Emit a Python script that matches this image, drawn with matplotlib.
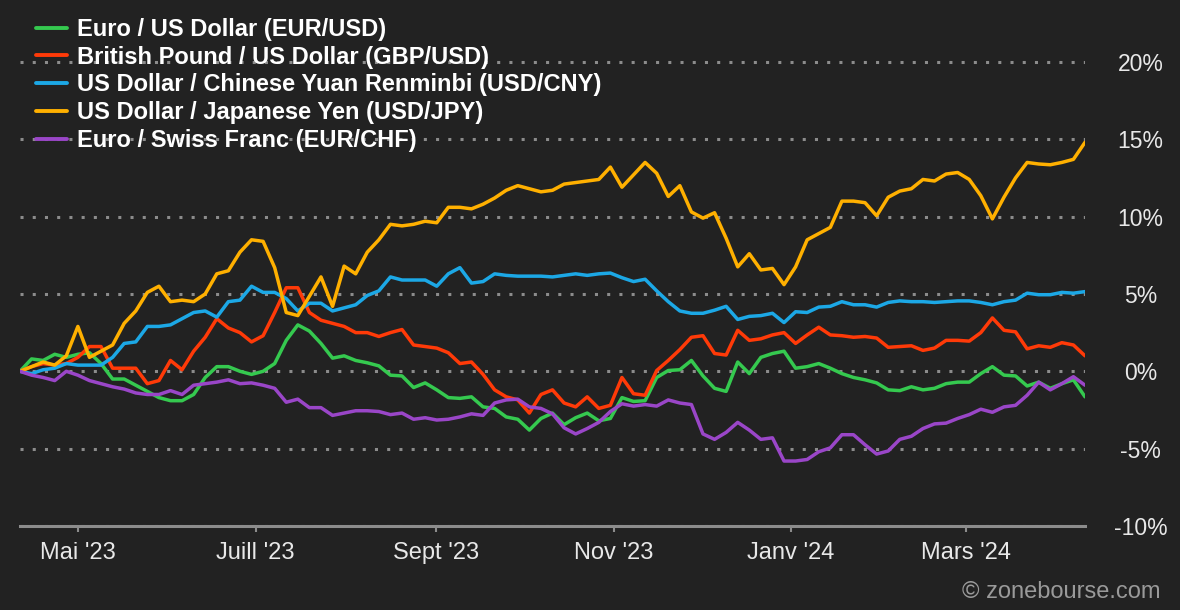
import matplotlib
matplotlib.use("Agg")
import matplotlib.pyplot as plt
import pandas as pd

# one reading about every 4 days, 11 Apr 2023 -> 11 Apr 2024 (% change)
dates = pd.date_range("2023-04-11", "2024-04-11", periods=93)

eur_usd = [0.0, 0.8, 0.7, 1.1, 0.9, 1.1, 1.2, 0.5, -0.5, -0.5,
           -0.9, -1.3, -1.7, -1.9, -1.9, -1.5, -0.4, 0.3, 0.3, 0.0,
           -0.2, 0.0, 0.5, 2.0, 3.0, 2.6, 1.8, 0.85, 1.0, 0.7,
           0.55, 0.35, -0.25, -0.3, -1.05, -0.75, -1.2, -1.7, -1.75, -1.65,
           -2.3, -2.4, -2.95, -3.1, -3.8, -3.05, -2.7, -3.45, -3.0, -2.7,
           -3.2, -3.05, -1.7, -1.95, -1.9, -0.4, 0.05, 0.1, 0.7, -0.3,
           -1.1, -1.3, 0.6, -0.15, 0.9, 1.15, 1.3, 0.2, 0.3, 0.5,
           0.2, -0.15, -0.4, -0.55, -0.75, -1.2, -1.25, -1.0, -1.2, -1.1,
           -0.8, -0.7, -0.7, -0.15, 0.3, -0.25, -0.3, -0.95, -0.7, -1.1,
           -0.8, -0.55, -1.65]

gbp_usd = [0.0, 0.3, 0.5, 0.4, 0.5, 0.9, 1.6, 1.6, 0.2, 0.2,
           0.2, -0.8, -0.6, 0.7, 0.1, 1.3, 2.2, 3.4, 2.8, 2.5,
           1.9, 2.3, 3.8, 5.4, 5.4, 3.8, 3.3, 3.1, 2.9, 2.5,
           2.5, 2.25, 2.5, 2.7, 1.7, 1.6, 1.5, 1.2, 0.5, 0.6,
           -0.2, -1.2, -1.65, -1.85, -2.7, -1.5, -1.2, -2.05, -2.3, -1.65,
           -2.4, -2.2, -0.4, -1.45, -1.55, 0.05, 0.7, 1.4, 2.2, 2.3,
           1.15, 1.05, 2.65, 2.0, 2.1, 2.35, 2.5, 1.8, 2.35, 2.85,
           2.35, 2.3, 2.2, 2.25, 2.15, 1.55, 1.6, 1.65, 1.35, 1.5,
           2.0, 2.0, 1.95, 2.5, 3.45, 2.65, 2.55, 1.45, 1.65, 1.55,
           1.85, 1.7, 1.0]

usd_cny = [0.0, -0.15, 0.1, 0.2, 0.5, 0.4, 0.4, 0.4, 0.9, 1.8,
           1.9, 2.9, 2.9, 3.0, 3.4, 3.8, 3.9, 3.5, 4.5, 4.6,
           5.5, 5.1, 5.1, 4.7, 3.9, 4.4, 4.4, 3.9, 4.1, 4.3,
           4.9, 5.2, 6.1, 5.9, 5.9, 5.9, 5.5, 6.3, 6.7, 5.7,
           5.8, 6.3, 6.2, 6.15, 6.15, 6.15, 6.1, 6.2, 6.3, 6.2,
           6.3, 6.35, 6.05, 5.8, 5.95, 5.2, 4.5, 3.9, 3.75, 3.75,
           3.95, 4.2, 3.35, 3.55, 3.6, 3.75, 3.15, 3.85, 3.8, 4.15,
           4.2, 4.5, 4.3, 4.3, 4.15, 4.45, 4.55, 4.5, 4.5, 4.45,
           4.5, 4.55, 4.55, 4.45, 4.3, 4.5, 4.6, 5.05, 4.95, 4.95,
           5.1, 5.05, 5.15]

usd_jpy = [0.0, 0.3, 0.6, 0.4, 1.0, 2.9, 0.9, 1.3, 1.7, 3.1,
           3.9, 5.1, 5.5, 4.5, 4.6, 4.5, 5.0, 6.3, 6.5, 7.7,
           8.5, 8.4, 6.7, 3.8, 3.6, 4.85, 6.1, 4.2, 6.8, 6.3,
           7.7, 8.5, 9.5, 9.4, 9.5, 9.7, 9.6, 10.6, 10.6, 10.5,
           10.8, 11.2, 11.7, 12.0, 11.8, 11.6, 11.7, 12.1, 12.2, 12.3,
           12.4, 13.2, 11.9, 12.7, 13.5, 12.8, 11.3, 12.0, 10.3, 9.9,
           10.25, 8.6, 6.75, 7.6, 6.55, 6.65, 5.6, 6.75, 8.5, 8.9,
           9.3, 11.0, 11.0, 10.9, 10.05, 11.25, 11.65, 11.8, 12.4, 12.3,
           12.75, 12.85, 12.4, 11.35, 9.85, 11.25, 12.5, 13.5, 13.4, 13.35,
           13.5, 13.7, 14.8]

eur_chf = [0.0, -0.25, -0.4, -0.6, 0.0, -0.25, -0.6, -0.8, -1.0, -1.15,
           -1.4, -1.5, -1.5, -1.25, -1.5, -0.9, -0.8, -0.7, -0.55, -0.8,
           -0.75, -0.9, -1.1, -2.0, -1.8, -2.35, -2.35, -2.85, -2.7, -2.55,
           -2.55, -2.6, -2.8, -2.7, -3.1, -3.0, -3.15, -3.1, -2.95, -2.75,
           -2.85, -2.05, -1.85, -1.8, -2.3, -2.4, -2.75, -3.65, -4.05, -3.7,
           -3.3, -2.6, -2.1, -2.25, -2.15, -2.25, -1.85, -2.05, -2.15, -4.05,
           -4.4, -3.95, -3.3, -3.8, -4.4, -4.3, -5.8, -5.8, -5.7, -5.2,
           -4.95, -4.1, -4.1, -4.75, -5.35, -5.15, -4.4, -4.2, -3.7, -3.4,
           -3.35, -3.05, -2.8, -2.45, -2.65, -2.3, -2.2, -1.55, -0.7, -1.2,
           -0.8, -0.35, -0.9]

series_names = ["Euro / US Dollar (EUR/USD)",
                "British Pound / US Dollar (GBP/USD)",
                "US Dollar / Chinese Yuan Renminbi (USD/CNY)",
                "US Dollar / Japanese Yen (USD/JPY)",
                "Euro / Swiss Franc (EUR/CHF)"]
series_colors = ["#35c94f", "#ff3a08", "#1ca8e6", "#ffb000", "#9a46c8"]

month_ticks = pd.to_datetime(["2023-05-01", "2023-07-01", "2023-09-01",
                              "2023-11-01", "2024-01-01", "2024-03-01"])
month_labels = ["Mai '23", "Juill '23", "Sept '23", "Nov '23", "Janv '24", "Mars '24"]
y_ticks = [-10, -5, 0, 5, 10, 15, 20]

BG = "#222222"
GREY = "#8c8c8c"
plt.rcParams["font.family"] = ["Liberation Sans", "DejaVu Sans"]

fig = plt.figure(figsize=(11.8, 6.1), dpi=100, facecolor=BG)
ax = fig.add_axes([20 / 1180, 84 / 610, 1065 / 1180, 526 / 610])
ax.set_facecolor(BG)

for vals, name, col in zip([eur_usd, gbp_usd, usd_cny, usd_jpy, eur_chf],
                           series_names, series_colors):
    ax.plot(dates, vals, color=col, lw=2.5, label=name,
            solid_joinstyle="round", solid_capstyle="round")

ax.set_xlim(dates[0], dates[-1])
ax.set_ylim(-10, 24)

for side in ["top", "left", "right"]:
    ax.spines[side].set_visible(False)
ax.spines["bottom"].set_color(GREY)
ax.spines["bottom"].set_linewidth(2.2)

ax.set_xticks(month_ticks)
ax.set_xticklabels(month_labels)
ax.tick_params(axis="x", length=4.3, width=1.5, color=GREY, pad=7,
               labelsize=17, labelcolor="#e8e8e8")

ax.yaxis.tick_right()
ax.set_yticks(y_ticks)
ax.set_yticklabels([f"{v}%" for v in y_ticks])
ax.tick_params(axis="y", length=0, pad=40, labelsize=16.5, labelcolor="#e8e8e8")
for lbl in ax.get_yticklabels():
    lbl.set_horizontalalignment("center")

ax.yaxis.grid(True, color=GREY, linestyle=(0, (1, 3)), linewidth=2.2)
ax.xaxis.grid(False)
ax.set_axisbelow(True)

leg = ax.legend(loc="upper left", bbox_to_anchor=(36 / 1180, 1 - 18 / 610),
                bbox_transform=fig.transFigure, frameon=False,
                prop={"weight": "bold", "size": 17}, handlelength=1.3,
                handletextpad=0.45, labelspacing=0.2, borderpad=0,
                borderaxespad=0)
for txt in leg.get_texts():
    txt.set_color("white")
for h in leg.get_lines():
    h.set_linewidth(2.8)

fig.text(1160 / 1180, 18 / 610, "© zonebourse.com", ha="right", va="center",
         color="#9a9a9a", fontsize=17)

fig.savefig("out.png", dpi=100, facecolor=BG)
